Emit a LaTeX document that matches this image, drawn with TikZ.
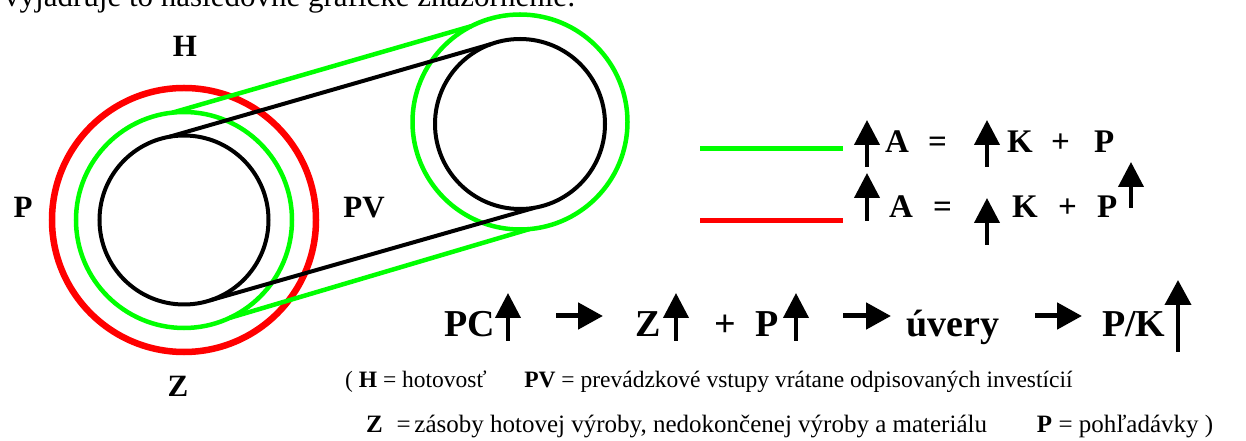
\documentclass[tikz,border=0pt]{standalone}
\usepackage{fontspec}
\setmainfont{Liberation Serif}
\usetikzlibrary{arrows.meta, positioning}
\definecolor{limegreen}{RGB}{0,255,0}
\definecolor{purered}{RGB}{255,0,0}

\begin{document}
\begin{tikzpicture}[x=1bp, y=-1bp,
  ring/.style={circle, draw, inner sep=0pt, outer sep=0pt, minimum size=#1},
  blackline/.style={line width=4bp, black},
  greenline/.style={line width=4.5bp, limegreen},
  lbl/.style={inner sep=0pt, anchor=base, font=\bfseries\fontsize{31bp}{36bp}\selectfont},
  eq/.style={inner sep=0pt, anchor=base west, font=\bfseries\fontsize{33bp}{38bp}\selectfont},
  chain/.style={inner sep=0pt, anchor=base west, font=\bfseries\fontsize{38bp}{44bp}\selectfont},
  note/.style={inner sep=0pt, anchor=base west, font=\fontsize{23.5bp}{28bp}\selectfont},
  uparr/.style={line width=4bp, -{Triangle[width=25bp,length=25bp]}},
  rarr/.style={line width=5bp, -{Triangle[width=26bp,length=25bp]}}
]
\useasboundingbox (0,0) rectangle (1246,441);
\clip (0,0) rectangle (1246,441);

% Intro line, cut at the top
\node[note, font=\fontsize{31bp}{35bp}\selectfont] (intro) at (4,7) {vyjadruje to nasledovné grafické znázornenie:};

% Left rings
\node[ring=264bp, draw=purered, line width=6.5bp] (redring) at (184,220) {};
\node[ring=216bp, draw=limegreen, line width=4.5bp] (lgreen) at (184,220) {};
\node[ring=169bp, draw=black, line width=4bp] (lblack) at (184,220) {};

% Right rings
\node[ring=215bp, draw=limegreen, line width=4.5bp] (rgreen) at (520,122) {};
\node[ring=170bp, draw=black, line width=4bp] (rblack) at (520,124) {};

% Tangent lines
\draw[blackline] (lblack.100) -- (rblack.110);
\draw[blackline] (lblack.-72) -- (rblack.-80);
\draw[greenline] (lgreen.96) -- (rgreen.117);
\draw[greenline] (lgreen.-65) -- (rgreen.-85);

% Labels round the rings
\node[lbl] (hlbl) at (185,57) {H};
\node[lbl] (plbl) at (23,218) {P};
\node[lbl] (pvlbl) at (364,218) {PV};
\node[lbl] (zlbl) at (178,397) {Z};

% Legend
\coordinate (gkey) at (700,149);
\coordinate (rkey) at (700,221);
\draw[line width=5bp, limegreen] (gkey) -- ++(143,0);
\draw[line width=5bp, purered] (rkey) -- ++(143,0);

% Green row
\draw[uparr] (867,167) -- (867,120);
\node[eq] (ga) at (885,153) {A};
\node[eq] (geq) at (928,153) {=};
\draw[uparr] (987,167) -- (987,120);
\node[eq] (gk) at (1007,153) {K};
\node[eq] (gplus) at (1051,153) {+};
\node[eq] (gp) at (1094,153) {P};

% Red row
\draw[uparr] (867,221) -- (867,173);
\node[eq] (ra) at (889,218) {A};
\node[eq] (req) at (933,218) {=};
\draw[uparr] (987,245) -- (987,198);
\node[eq] (rk) at (1012,218) {K};
\node[eq] (rplus) at (1058,218) {+};
\node[eq] (rp) at (1097,218) {P};
\draw[uparr] (1131,208) -- (1131,162);

% Chain
\node[chain] (pc) at (444,337) {PC};
\draw[uparr] (508,341) -- (508,293);
\draw[rarr] (556,316) -- (603,316);
\node[chain] (zz) at (635,337) {Z};
\draw[uparr] (676,341) -- (676,293);
\node[chain] (cplus) at (714,337) {+};
\node[chain] (cp) at (755,337) {P};
\draw[uparr] (796,341) -- (796,293);
\draw[rarr] (843,316) -- (891,316);
\node[chain] (uvery) at (906,337) {úvery};
\draw[rarr] (1035,316) -- (1082,316);
\node[chain] (pk) at (1102,337) {P/K};
\draw[line width=4bp, -{Triangle[width=26bp,length=25bp]}] (1178,352) -- (1178,280);

% Notes
\node[note] (note1) at (345,388) {( \textbf{H} = hotovosť\hspace{1.6em}\textbf{PV} = prevádzkové vstupy vrátane odpisovaných investícií};
\node[note, font=\fontsize{25bp}{29bp}\selectfont] (note2) at (366,433) {\textbf{Z}\hspace{0.55em}=\hspace{0.15em}zásoby hotovej výroby, nedokončenej výroby a materiálu\hspace{2em}\textbf{P} = pohľadávky )};
\end{tikzpicture}
\end{document}
